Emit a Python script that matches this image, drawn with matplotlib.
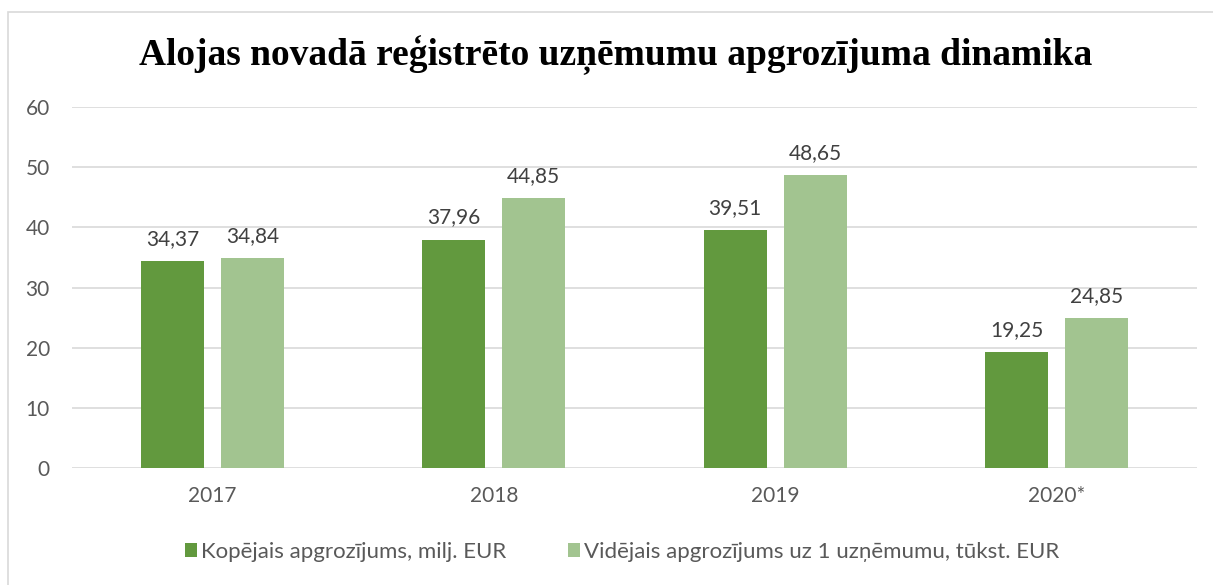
import matplotlib
matplotlib.use("Agg")
import matplotlib.pyplot as plt
from matplotlib.patches import Rectangle

categories = ["2017", "2018", "2019", "2020*"]
total_turnover = [34.37, 37.96, 39.51, 19.25]
avg_turnover = [34.84, 44.85, 48.65, 24.85]
series_names = ["Kopējais apgrozījums, milj. EUR",
                "Vidējais apgrozījums uz 1 uzņēmumu, tūkst. EUR"]
title = "Alojas novadā reģistrēto uzņēmumu apgrozījuma dinamika"
yticks = [0, 10, 20, 30, 40, 50, 60]

dark = "#62993E"
light = "#A2C490"
txt = "#595959"
font = ["Lato", "DejaVu Sans"]

fig = plt.figure(figsize=(12.13, 5.85), dpi=100)
fig.patches.append(Rectangle((8/1213, -0.01), 1.02, (585-12)/585 + 0.01,
                             transform=fig.transFigure, fill=False,
                             edgecolor="#d9d9d9", linewidth=1.2))
ax = fig.add_axes([72/1213, (585-468)/585, (1197-72)/1213, (468-107)/585])

x = list(range(len(categories)))
w = 0.224
off = 0.142
b1 = ax.bar([i - off for i in x], total_turnover, width=w, color=dark, label=series_names[0], zorder=3)
b2 = ax.bar([i + off for i in x], avg_turnover, width=w, color=light, label=series_names[1], zorder=3)

for bars, vals in ((b1, total_turnover), (b2, avg_turnover)):
    for r, v in zip(bars, vals):
        ax.annotate(f"{v:.2f}".replace(".", ","), (r.get_x() + r.get_width()/2, v),
                    xytext=(0, 9), textcoords="offset points", ha="center", va="bottom",
                    fontsize=15, color="#404040", family=font)

ax.set_xlim(-0.5, 3.5)
ax.set_ylim(0, 60)
ax.set_yticks(yticks)
ax.set_xticks(x)
ax.set_xticklabels(categories)
for s in ax.spines.values():
    s.set_visible(False)
ax.grid(axis="y", color="#d9d9d9", linewidth=1.2, zorder=0)
ax.tick_params(axis="both", length=0, labelsize=15, labelcolor=txt)
ax.tick_params(axis="x", pad=13)
ax.tick_params(axis="y", pad=16)
for lab in ax.get_xticklabels() + ax.get_yticklabels():
    lab.set_family(font)

fig.text(616/1213, 1 - 55/585, title, ha="center", va="center",
         fontsize=27, fontweight="bold", family=["Liberation Serif", "DejaVu Serif"])

leg = fig.legend(handles=[b1, b2], loc="center", bbox_to_anchor=(622/1213, 1 - 552/585),
                 ncol=2, frameon=False, prop={"family": font, "size": 16},
                 handlelength=0.55, handleheight=0.55, handletextpad=0.15, columnspacing=2.8)
for t in leg.get_texts():
    t.set_color(txt)

fig.savefig("out.png", dpi=100)
